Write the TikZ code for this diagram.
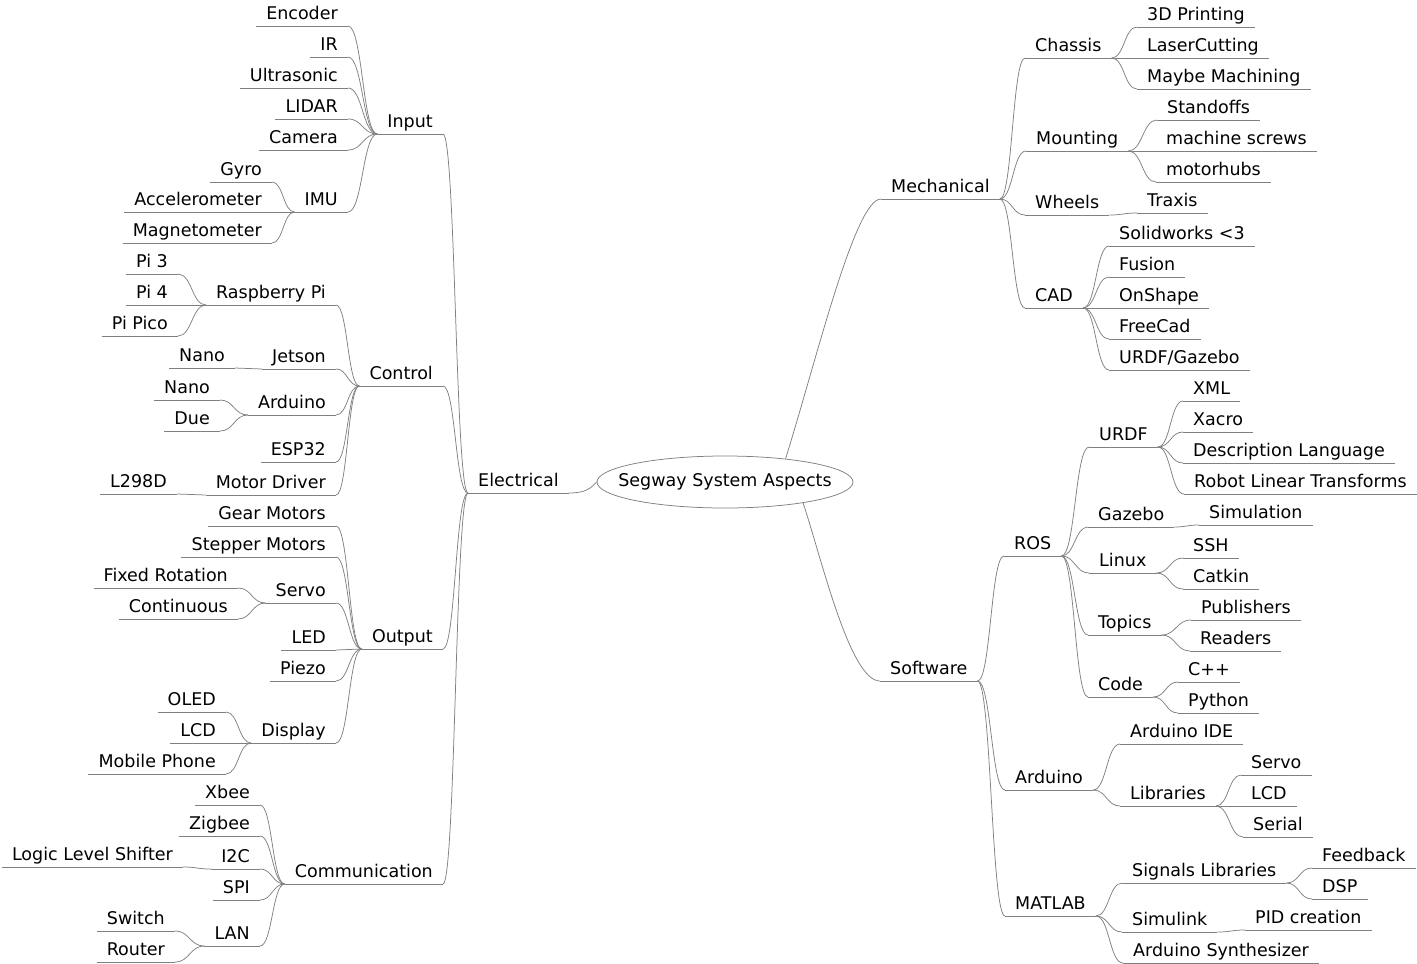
\documentclass[tikz,border=0pt]{standalone}
\usepackage{fontspec}
\setmainfont{DejaVu Sans}
\usetikzlibrary{calc,shapes.geometric}
\tikzset{
  conn/.style={draw=black!50, line width=0.75pt},
  mm/.style={font=\fontsize{17.5}{21}\selectfont, inner xsep=10pt, inner ysep=2pt,
    text height=13pt, text depth=4pt,
    append after command={(\tikzlastnode.south west) edge[conn] (\tikzlastnode.south east)}},
  rootnode/.style={ellipse, draw=black!50, line width=0.75pt, fill=white, inner sep=0pt,
    minimum width=256pt, minimum height=52pt, font=\fontsize{17.5}{21}\selectfont}
}
\newcommand\mmL[4]{\node[mm, anchor=south east] (#1) at (#2,#3) {#4};}
\newcommand\mmR[4]{\node[mm, anchor=south west] (#1) at (#2,#3) {#4};}
\newcommand\cnL[2]{\draw[conn] let \p1=(#2.south east), \p2=(#1.south west) in (\p1) .. controls ({(\x1+\x2)/2},\y1) and ({(\x1+\x2)/2},\y2) .. (\p2);}
\newcommand\cnR[2]{\draw[conn] let \p1=(#1.south east), \p2=(#2.south west) in (\p1) .. controls ({(\x1+\x2)/2},\y1) and ({(\x1+\x2)/2},\y2) .. (\p2);}
\begin{document}
\begin{tikzpicture}[x=1pt,y=-1pt]
\useasboundingbox (0,0) rectangle (1417,964);
% root
\node[rootnode] (root) at (725,482) {\makebox[150pt][c]{Segway System Aspects}};
% ---------------- left: Electrical
\node[mm, anchor=south west] (elec) at (468,493) {Electrical};
\mmL{in}{443}{134}{Input}
\mmL{enc}{348}{26}{Encoder}
\mmL{ir}{348}{57}{IR}
\mmL{ultra}{348}{88}{Ultrasonic}
\mmL{lidar}{348}{119}{LIDAR}
\mmL{cam}{348}{150}{Camera}
\mmL{imu}{348}{212}{IMU}
\mmL{gyro}{272}{182}{Gyro}
\mmL{acc}{272}{212}{Accelerometer}
\mmL{mag}{272}{243}{Magnetometer}
\mmL{ctrl}{443}{386}{Control}
\mmL{rpi}{336}{305}{Raspberry Pi}
\mmL{pi3}{178}{274}{Pi 3}
\mmL{pi4}{178}{305}{Pi 4}
\mmL{pico}{178}{336}{Pi Pico}
\mmL{jet}{336}{369}{Jetson}
\mmL{jnano}{235}{368}{Nano}
\mmL{ard}{336}{415}{Arduino}
\mmL{anano}{220}{400}{Nano}
\mmL{due}{220}{431}{Due}
\mmL{esp}{336}{462}{ESP32}
\mmL{mdrv}{336}{495}{Motor Driver}
\mmL{lmd}{177}{494}{L298D}
\mmL{out}{443}{649}{Output}
\mmL{gear}{336}{526}{Gear Motors}
\mmL{stepm}{336}{557}{Stepper Motors}
\mmL{servo}{336}{603}{Servo}
\mmL{fixed}{238}{588}{Fixed Rotation}
\mmL{cont}{238}{619}{Continuous}
\mmL{led}{336}{650}{LED}
\mmL{piezo}{336}{681}{Piezo}
\mmL{disp}{336}{743}{Display}
\mmL{oled}{226}{712}{OLED}
\mmL{lcd}{226}{743}{LCD}
\mmL{mob}{226}{774}{Mobile Phone}
\mmL{comm}{443}{884}{Communication}
\mmL{xbee}{260}{805}{Xbee}
\mmL{zig}{260}{836}{Zigbee}
\mmL{i2c}{260}{869}{I2C}
\mmL{lls}{183}{867}{Logic Level Shifter}
\mmL{spi}{260}{900}{SPI}
\mmL{lan}{260}{946}{LAN}
\mmL{swi}{175}{931}{Switch}
\mmL{rout}{175}{962}{Router}
% ---------------- right: Mechanical
\mmR{mech}{881}{199}{Mechanical}
\mmR{chas}{1025}{58}{Chassis}
\mmR{pdd}{1137}{27}{3D Printing}
\mmR{laser}{1137}{58}{LaserCutting}
\mmR{mach}{1137}{89}{Maybe Machining}
\mmR{mount}{1026}{151}{Mounting}
\mmR{stand}{1157}{120}{Standoffs}
\mmR{screw}{1156}{151}{machine screws}
\mmR{hubs}{1156}{182}{motorhubs}
\mmR{wheel}{1025}{215}{Wheels}
\mmR{trax}{1137}{213}{Traxis}
\mmR{cad}{1025}{308}{CAD}
\mmR{solw}{1109}{246}{Solidworks <3}
\mmR{fus}{1109}{277}{Fusion}
\mmR{onsh}{1109}{308}{OnShape}
\mmR{fcad}{1109}{339}{FreeCad}
\mmR{urdfg}{1109}{370}{URDF/Gazebo}
% ---------------- right: Software
\mmR{soft}{880}{681}{Software}
\mmR{ros}{1004}{556}{ROS}
\mmR{urdf}{1089}{447}{URDF}
\mmR{xml}{1183}{401}{XML}
\mmR{xacro}{1183}{432}{Xacro}
\mmR{desc}{1183}{463}{Description Language}
\mmR{rlt}{1184}{494}{Robot Linear Transforms}
\mmR{gaz}{1088}{527}{Gazebo}
\mmR{sim}{1199}{525}{Simulation}
\mmR{linux}{1089}{573}{Linux}
\mmR{ssh}{1183}{558}{SSH}
\mmR{catkin}{1183}{589}{Catkin}
\mmR{topics}{1088}{635}{Topics}
\mmR{pub}{1191}{620}{Publishers}
\mmR{read}{1190}{651}{Readers}
\mmR{code}{1088}{697}{Code}
\mmR{cpp}{1178}{682}{C++}
\mmR{py}{1178}{713}{Python}
\mmR{ards}{1005}{790}{Arduino}
\mmR{aide}{1120}{744}{Arduino IDE}
\mmR{libs}{1120}{806}{Libraries}
\mmR{lservo}{1241}{775}{Servo}
\mmR{llcd}{1241}{806}{LCD}
\mmR{lser}{1243}{837}{Serial}
\mmR{matlab}{1005}{916}{MATLAB}
\mmR{sig}{1122}{883}{Signals Libraries}
\mmR{fb}{1312}{868}{Feedback}
\mmR{dsp}{1312}{899}{DSP}
\mmR{simu}{1122}{932}{Simulink}
\mmR{pid}{1245}{930}{PID creation}
\mmR{asyn}{1123}{963}{Arduino Synthesizer}
% ---------------- connectors: root
\draw[conn] (elec.south east) .. controls (586,493) and (591,488) .. (root.west);
\draw[conn] (root.21) .. controls (817,358) and (855,199) .. (mech.south west);
\draw[conn] (root.-15) .. controls (822,560) and (850,681) .. (soft.south west);
% left connectors
\cnL{elec}{in}\cnL{elec}{ctrl}\cnL{elec}{out}\cnL{elec}{comm}
\cnL{in}{enc}\cnL{in}{ir}\cnL{in}{ultra}\cnL{in}{lidar}\cnL{in}{cam}\cnL{in}{imu}
\cnL{imu}{gyro}\cnL{imu}{acc}\cnL{imu}{mag}
\cnL{ctrl}{rpi}\cnL{ctrl}{jet}\cnL{ctrl}{ard}\cnL{ctrl}{esp}\cnL{ctrl}{mdrv}
\cnL{rpi}{pi3}\cnL{rpi}{pi4}\cnL{rpi}{pico}
\cnL{jet}{jnano}
\cnL{ard}{anano}\cnL{ard}{due}
\cnL{mdrv}{lmd}
\cnL{out}{gear}\cnL{out}{stepm}\cnL{out}{servo}\cnL{out}{led}\cnL{out}{piezo}\cnL{out}{disp}
\cnL{servo}{fixed}\cnL{servo}{cont}
\cnL{disp}{oled}\cnL{disp}{lcd}\cnL{disp}{mob}
\cnL{comm}{xbee}\cnL{comm}{zig}\cnL{comm}{i2c}\cnL{comm}{spi}\cnL{comm}{lan}
\cnL{i2c}{lls}
\cnL{lan}{swi}\cnL{lan}{rout}
% right connectors
\cnR{mech}{chas}\cnR{mech}{mount}\cnR{mech}{wheel}\cnR{mech}{cad}
\cnR{chas}{pdd}\cnR{chas}{laser}\cnR{chas}{mach}
\cnR{mount}{stand}\cnR{mount}{screw}\cnR{mount}{hubs}
\cnR{wheel}{trax}
\cnR{cad}{solw}\cnR{cad}{fus}\cnR{cad}{onsh}\cnR{cad}{fcad}\cnR{cad}{urdfg}
\cnR{soft}{ros}\cnR{soft}{ards}\cnR{soft}{matlab}
\cnR{ros}{urdf}\cnR{ros}{gaz}\cnR{ros}{linux}\cnR{ros}{topics}\cnR{ros}{code}
\cnR{urdf}{xml}\cnR{urdf}{xacro}\cnR{urdf}{desc}\cnR{urdf}{rlt}
\cnR{gaz}{sim}
\cnR{linux}{ssh}\cnR{linux}{catkin}
\cnR{topics}{pub}\cnR{topics}{read}
\cnR{code}{cpp}\cnR{code}{py}
\cnR{ards}{aide}\cnR{ards}{libs}
\cnR{libs}{lservo}\cnR{libs}{llcd}\cnR{libs}{lser}
\cnR{matlab}{sig}\cnR{matlab}{simu}\cnR{matlab}{asyn}
\cnR{sig}{fb}\cnR{sig}{dsp}
\cnR{simu}{pid}
\end{tikzpicture}
\end{document}
